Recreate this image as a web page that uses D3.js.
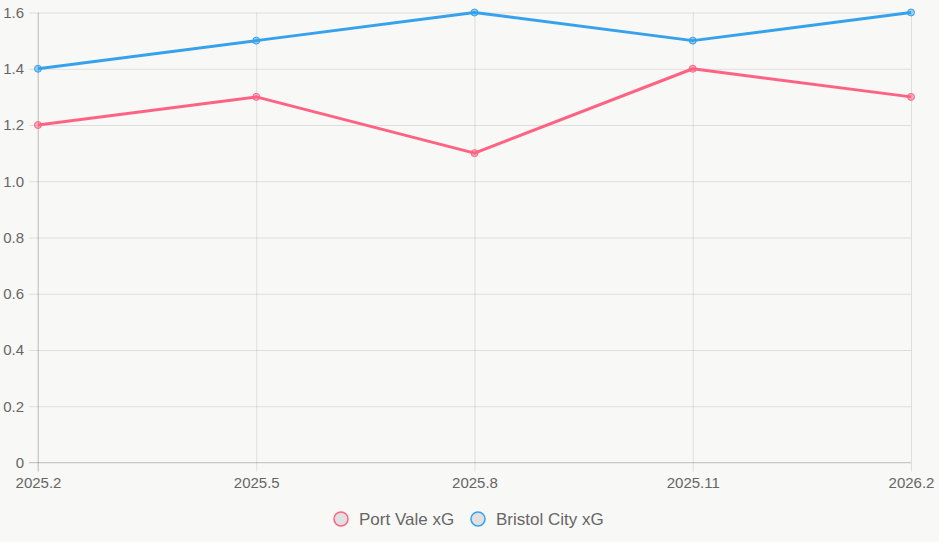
<!DOCTYPE html>
<html>
<head>
  <script src="https://d3js.org/d3.v7.min.js"></script>
  <style>
    body { margin: 0; background: #f8f8f6; }
    svg { display: block; font-family: "Liberation Sans", Arial, sans-serif; }
  </style>
</head>
<body>
  <svg id="chart" width="939" height="542"></svg>
  <script>
    const months = ["2025.2", "2025.5", "2025.8", "2025.11", "2026.2"];
    const portVale = [1.2, 1.3, 1.1, 1.4, 1.3];
    const bristolCity = [1.4, 1.5, 1.6, 1.5, 1.6];
    const yTicks = [0, 0.2, 0.4, 0.6, 0.8, 1.0, 1.2, 1.4, 1.6];

    const series = [
      { name: "Port Vale xG", values: portVale, color: "#ff6384", fill: "rgba(255,99,132,0.5)" },
      { name: "Bristol City xG", values: bristolCity, color: "#36a2eb", fill: "rgba(54,162,235,0.5)" }
    ];

    const svg = d3.select("svg#chart");
    const plotLeft = 38, plotRight = 911, plotTop = 12.5, plotBottom = 462.5;

    const x = d3.scalePoint().domain(months).range([plotLeft, plotRight]);
    const y = d3.scaleLinear().domain([0, 1.6]).range([plotBottom, plotTop]);

    const grid = "rgba(0,0,0,0.1)";

    // horizontal grid + y ticks
    const yAxis = svg.append("g")
      .attr("transform", `translate(${plotLeft},0)`)
      .call(d3.axisLeft(y).tickValues(yTicks).tickSize(9).tickPadding(5)
        .tickFormat(d => d === 0 ? "0" : d.toFixed(1)));
    yAxis.select(".domain").remove();
    yAxis.selectAll("line").attr("stroke", grid);
    yAxis.selectAll(".tick").append("line")
      .attr("x1", 0).attr("x2", plotRight - plotLeft).attr("stroke", grid);
    yAxis.selectAll("text").attr("fill", "#666").style("font-size", "15px");

    // vertical grid + x ticks
    const xAxis = svg.append("g")
      .attr("transform", `translate(0,${plotBottom})`)
      .call(d3.axisBottom(x).tickSize(9).tickPadding(6));
    xAxis.select(".domain").remove();
    xAxis.selectAll("line").attr("stroke", grid);
    xAxis.selectAll(".tick").append("line")
      .attr("y1", 0).attr("y2", plotTop - plotBottom).attr("stroke", grid);
    xAxis.selectAll("text").attr("fill", "#666").style("font-size", "15px");

    // axis lines
    svg.append("line").attr("x1", plotLeft).attr("x2", plotLeft)
      .attr("y1", plotTop).attr("y2", plotBottom + 9)
      .attr("stroke", "rgba(0,0,0,0.15)");
    svg.append("line").attr("x1", plotLeft - 9).attr("x2", plotRight)
      .attr("y1", plotBottom).attr("y2", plotBottom)
      .attr("stroke", "rgba(0,0,0,0.15)");

    const line = d3.line().x((d, i) => x(months[i])).y(d => y(d));

    series.forEach(s => {
      svg.append("path")
        .datum(s.values)
        .attr("d", line)
        .attr("fill", "none")
        .attr("stroke", s.color)
        .attr("stroke-width", 3)
        .attr("stroke-linejoin", "round");
      svg.append("g").selectAll("circle")
        .data(s.values)
        .join("circle")
        .attr("cx", (d, i) => x(months[i]))
        .attr("cy", d => y(d))
        .attr("r", 3.5)
        .attr("fill", s.fill)
        .attr("stroke", s.color)
        .attr("stroke-width", 1);
    });

    // legend
    const legend = svg.append("g").attr("transform", "translate(0,519)");
    const legendX = [341, 478];
    series.forEach((s, i) => {
      legend.append("circle")
        .attr("cx", legendX[i]).attr("cy", 0).attr("r", 7)
        .attr("fill", "#e0e0e0").attr("stroke", s.color).attr("stroke-width", 1.5);
      legend.append("text")
        .attr("x", legendX[i] + 18).attr("y", 0).attr("dy", "0.35em")
        .attr("fill", "#666").style("font-size", "17px")
        .text(s.name);
    });
  </script>
</body>
</html>
